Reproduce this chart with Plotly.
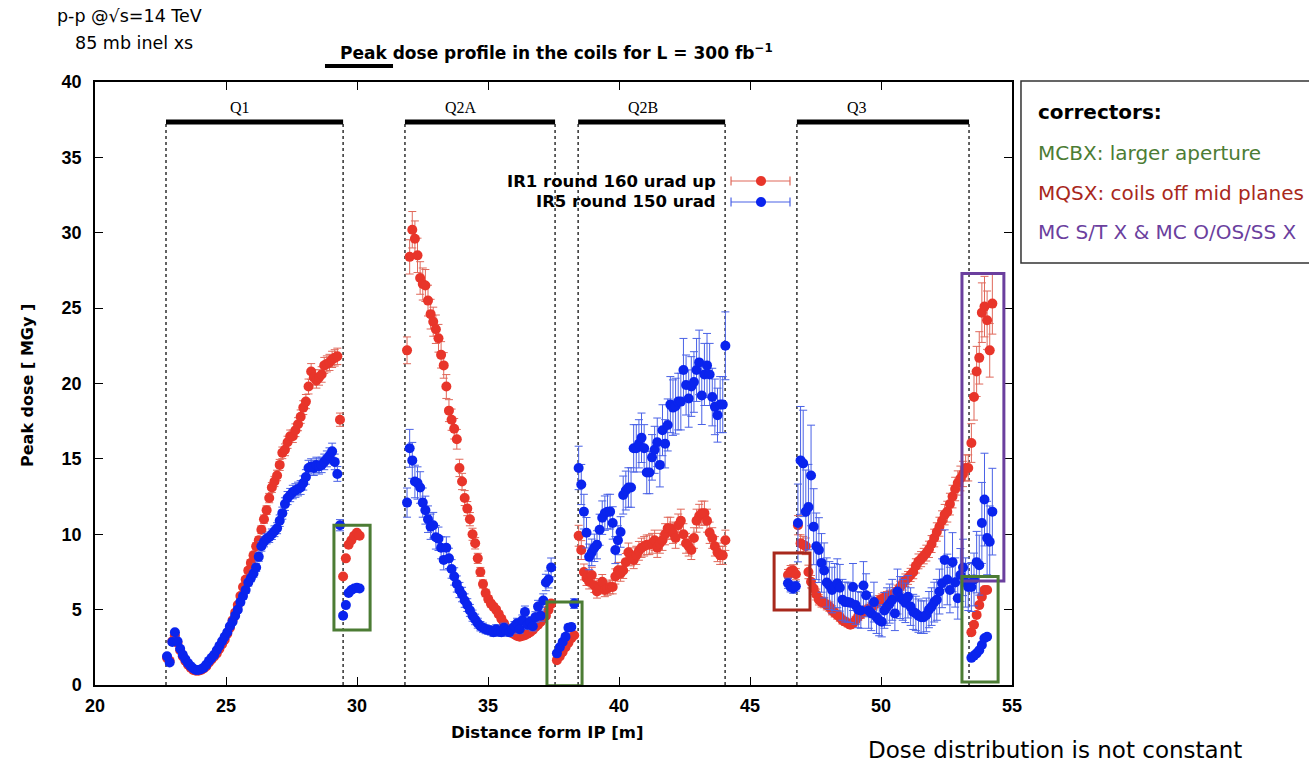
import plotly.graph_objects as go

# ---------------------------------------------------------------------------
# Peak dose in the coils (MGy) per scoring bin, for the two IR layouts
# Each block: first bin centre [m], bin width [m], IR1 values, IR5 values
# ---------------------------------------------------------------------------
q1_start, q1_step = 22.75, 0.1
q1_ir1 = [1.8, 1.6, 2.9, 3.3, 2.8, 2.3, 1.9, 1.6, 1.35, 1.15,
          1.0, 0.95, 0.95, 1.0, 1.1, 1.25, 1.5, 1.7, 1.9, 2.1,
          2.4, 2.7, 3.0, 3.4, 3.8, 4.3, 4.8, 5.3, 5.9, 6.5,
          7.0, 7.6, 8.1, 8.6, 9.2, 9.6, 10.3, 11.0, 11.6, 12.4,
          13.1, 13.5, 13.9, 14.6, 15.4, 15.6, 16.1, 16.5, 16.5, 16.9,
          17.3, 17.8, 18.4, 18.8, 19.8, 20.8, 20.4, 20.2, 20.4, 20.6,
          21.2, 21.3, 21.4, 21.6, 21.7, 21.8, 17.6]
q1_ir5 = [1.9, 1.5, 2.85, 3.5, 2.9, 2.4, 2.0, 1.7, 1.45, 1.25,
          1.1, 1.0, 1.0, 1.05, 1.15, 1.35, 1.6, 1.8, 2.0, 2.3,
          2.6, 2.9, 3.2, 3.5, 3.9, 4.2, 4.6, 5.0, 5.5, 5.9,
          6.3, 6.8, 7.1, 7.4, 7.8, 8.5, 9.2, 9.5, 9.7, 9.8,
          10.0, 10.2, 10.4, 10.9, 11.4, 12.0, 12.4, 12.6, 12.8, 12.9,
          13.0, 13.1, 13.4, 13.8, 14.4, 14.5, 14.4, 14.6, 14.5, 14.6,
          14.8, 15.0, 15.2, 15.5, 14.8, 14.0, 10.6]

mcbx1_start, mcbx1_step = 29.47, 0.105
mcbx1_ir1 = [7.2, 8.4, 9.3, 9.6, 9.9, 10.1, 9.9]
mcbx1_ir5 = [4.6, 5.3, 6.1, 6.3, 6.4, 6.45, 6.4]

q2a_start, q2a_step = 31.91, 0.1
q2a_ir1 = [22.2, 28.4, 30.2, 29.6, 28.5, 27.0, 26.6, 26.5, 25.5, 24.6,
           24.1, 23.6, 23.0, 21.9, 21.2, 19.8, 18.2, 17.6, 17.0, 16.3,
           14.4, 13.5, 12.4, 11.7, 11.0, 10.0, 9.4, 8.4, 7.5, 6.7,
           6.1, 5.7, 5.4, 5.2, 5.0, 4.7, 4.4, 4.1, 3.8, 3.6,
           3.45, 3.35, 3.25, 3.2, 3.25, 3.3, 3.4, 3.5, 3.65, 3.85,
           4.0, 4.2, 4.4, 4.6, 5.0, 5.4]
q2a_ir5 = [12.1, 15.7, 14.9, 13.5, 13.4, 13.1, 12.1, 11.6, 11.0, 10.5,
           10.6, 9.8, 9.7, 9.1, 8.3, 9.1, 8.4, 7.7, 7.2, 6.7,
           6.3, 6.0, 5.6, 5.3, 4.95, 4.6, 4.35, 4.1, 3.9, 3.8,
           3.7, 3.65, 3.6, 3.5, 3.7, 3.55, 3.5, 3.8, 3.6, 3.5,
           3.7, 3.9, 4.1, 3.7, 4.3, 4.85, 4.0, 4.2, 3.9, 4.5,
           5.2, 4.6, 5.6, 6.8, 7.0, 7.8]

mcbx2_start, mcbx2_step = 37.63, 0.11
mcbx2_ir1 = [1.65, 1.9, 2.2, 2.5, 2.8, 3.1, 3.3]
mcbx2_ir5 = [2.1, 2.5, 2.85, 3.2, 3.8, 3.85, 5.4]

q2b_start, q2b_step = 38.46, 0.1
q2b_ir1 = [9.9, 8.95, 7.5, 7.1, 6.85, 7.3, 6.6, 6.2, 6.5, 6.85,
           6.3, 6.4, 6.5, 6.5, 7.2, 7.6, 7.4, 7.6, 8.15, 8.8,
           8.5, 8.3, 8.6, 8.9, 9.1, 9.2, 9.3, 9.3, 9.4, 9.6,
           9.1, 9.4, 9.6, 10.0, 10.4, 10.4, 10.1, 9.75, 10.6, 10.9,
           10.0, 9.4, 9.2, 8.95, 9.75, 10.9, 11.2, 11.4, 11.4, 10.9,
           10.1, 9.75, 9.2, 8.8, 8.6, 8.6, 9.6]
q2b_ir5 = [14.4, 13.3, 11.5, 10.1, 8.5, 8.8, 9.1, 9.3, 10.3, 11.1,
           11.4, 11.5, 11.5, 10.75, 8.95, 9.6, 10.15, 12.6, 12.9, 13.1,
           13.1, 15.7, 15.7, 16.0, 16.4, 15.7, 14.1, 14.1, 15.1, 15.6,
           16.1, 14.6, 16.9, 16.0, 17.25, 18.6, 18.4, 18.5, 18.8, 18.8,
           20.9, 19.9, 19.0, 19.8, 20.1, 20.9, 21.4, 19.2, 20.6, 21.2,
           20.6, 19.1, 18.45, 17.9, 18.6, 18.6, 22.5]

mqsx_start, mqsx_step = 46.45, 0.1
mqsx_ir1 = [7.3, 7.55, 7.6, 7.35]
mqsx_ir5 = [6.75, 6.5, 6.4, 6.55]

q3_start, q3_step = 46.83, 0.1
q3_ir1 = [10.6, 9.4, 9.3, 9.2, 7.5, 6.85, 6.4, 6.0, 5.65, 5.5,
          5.45, 5.3, 5.2, 4.95, 4.8, 4.65, 4.5, 4.3, 4.2, 4.1,
          4.0, 4.1, 4.3, 4.55, 4.7, 4.85, 4.95, 5.05, 5.15, 5.3,
          5.45, 5.6, 5.7, 5.8, 5.85, 5.9, 5.95, 6.1, 6.25, 6.5,
          6.7, 6.95, 7.1, 7.3, 7.5, 7.9, 8.2, 8.35, 8.55, 8.75,
          9.0, 9.35, 9.75, 10.15, 10.5, 10.9, 11.3, 11.5, 12.0, 12.5,
          13.0, 13.4, 13.7, 14.0, 14.4, 14.4]
q3_ir5 = [10.75, 14.9, 14.7, 11.5, 11.8, 13.9, 10.5, 9.2, 8.95, 8.1,
          7.6, 6.8, 6.6, 6.3, 6.5, 6.75, 6.45, 5.65, 5.5, 5.5,
          5.45, 6.5, 5.3, 5.0, 4.95, 6.6, 5.95, 4.95, 4.75, 5.5,
          4.5, 4.3, 4.2, 4.95, 5.2, 5.4, 5.65, 4.75, 6.2, 5.8,
          5.65, 5.45, 5.85, 5.2, 4.85, 4.75, 4.6, 4.5, 4.5, 4.65,
          5.0, 5.2, 5.5, 5.65, 6.2, 6.75, 8.3, 7.0, 6.3, 8.15,
          6.8, 5.75, 7.3, 7.8, 6.8, 6.5]

# multipole corrector package after Q3: outer (high) and inner (low) coils
mcx_hi_start, mcx_hi_step = 53.45, 0.1
mcx_hi_ir1 = [16.05, 19.1, 20.8, 21.7, 24.7, 25.1, 24.2, 22.2, 25.3]
mcx_hi_ir5 = [6.5, 7.0, 8.15, 7.95, 10.75, 12.3, 9.75, 9.5, 11.5]

mcbx3_start, mcbx3_step = 53.45, 0.1
mcbx3_ir1 = [3.5, 4.0, 4.65, 5.3, 5.85, 6.3, 6.3]
mcbx3_ir5 = [1.8, 1.95, 2.1, 2.3, 2.65, 3.1, 3.2]

# statistical uncertainty (percent) per block: (IR1, IR5)
blocks = [
    (q1_start, q1_step, q1_ir1, q1_ir5, (2.5, 3.5)),
    (mcbx1_start, mcbx1_step, mcbx1_ir1, mcbx1_ir5, (1.0, 1.0)),
    (q2a_start, q2a_step, q2a_ir1, q2a_ir5, (4.0, 8.0)),
    (mcbx2_start, mcbx2_step, mcbx2_ir1, mcbx2_ir5, (2.0, 6.0)),
    (q2b_start, q2b_step, q2b_ir1, q2b_ir5, (7.0, 10.0)),
    (mqsx_start, mqsx_step, mqsx_ir1, mqsx_ir5, (5.0, 5.0)),
    (q3_start, q3_step, q3_ir1, q3_ir5, (6.0, 24.0)),
    (mcx_hi_start, mcx_hi_step, mcx_hi_ir1, mcx_hi_ir5, (8.0, 25.0)),
    (mcbx3_start, mcbx3_step, mcbx3_ir1, mcbx3_ir5, (2.0, 2.0)),
]

# magnet layout along the beam line [m]
magnet_names = ["Q1", "Q2A", "Q2B", "Q3"]
magnet_starts = [22.71, 31.83, 38.44, 46.79]
magnet_ends = [29.47, 37.56, 44.05, 53.36]
magnet_label_x = [25.08, 33.28, 40.27, 48.63]
magnet_bar_y = 37.35
magnet_label_y = 38.3

# highlighted corrector regions: (x0, x1, y0, y1, colour)
GREEN, DARKRED, PURPLE = "#4c7c34", "#a8281c", "#6b3f9e"
highlight_boxes = [
    (29.12, 30.50, 3.65, 10.6, GREEN),
    (37.25, 38.59, -0.05, 5.5, GREEN),
    (45.92, 47.29, 4.98, 8.75, DARKRED),
    (53.09, 54.69, 6.9, 27.3, PURPLE),
    (53.09, 54.47, 0.2, 7.2, GREEN),
]

RED, RED_ERR = "#e8352a", "#e0685a"
BLUE, BLUE_ERR = "#0a24ee", "#4a62e6"


def bin_centres(start, step, n):
    return [round(start + step * i, 3) for i in range(n)]


fig = go.Figure()

# IR1 first, IR5 drawn on top
for series, colour, ecol in ((0, RED, RED_ERR), (1, BLUE, BLUE_ERR)):
    for start, step, ir1, ir5, errs in blocks:
        vals = ir1 if series == 0 else ir5
        fig.add_trace(go.Scatter(
            x=bin_centres(start, step, len(vals)), y=vals, mode="markers",
            marker=dict(color=colour, size=10, line=dict(width=0)),
            error_y=dict(type="percent", value=errs[series], color=ecol,
                         thickness=1, width=4),
            showlegend=False, hoverinfo="x+y",
        ))

shapes = []
for name, x0, x1 in zip(magnet_names, magnet_starts, magnet_ends):
    for xv in (x0, x1):
        shapes.append(dict(type="line", xref="x", yref="y", x0=xv, x1=xv,
                           y0=0, y1=magnet_bar_y, layer="below",
                           line=dict(color="#222", width=1.4, dash="dot")))
    shapes.append(dict(type="line", xref="x", yref="y", x0=x0, x1=x1,
                       y0=magnet_bar_y, y1=magnet_bar_y,
                       line=dict(color="black", width=5)))

for x0, x1, y0, y1, col in highlight_boxes:
    shapes.append(dict(type="rect", xref="x", yref="y", x0=x0, x1=x1,
                       y0=y0, y1=y1, line=dict(color=col, width=3),
                       fillcolor="rgba(0,0,0,0)"))

# key samples (marker with horizontal error bar)
for yk, colour, ecol in ((0.8358, RED, RED_ERR), (0.801, BLUE, BLUE_ERR)):
    shapes.append(dict(type="line", xref="paper", yref="paper",
                       x0=0.6936, x1=0.7579, y0=yk, y1=yk,
                       line=dict(color=ecol, width=1.2)))
    for xc in (0.6936, 0.7579):
        shapes.append(dict(type="line", xref="paper", yref="paper",
                           x0=xc, x1=xc, y0=yk - 0.0075, y1=yk + 0.0075,
                           line=dict(color=ecol, width=1.2)))
    shapes.append(dict(type="circle", xref="paper", yref="paper",
                       x0=0.7263 - 0.0055, x1=0.7263 + 0.0055,
                       y0=yk - 0.0083, y1=yk + 0.0083,
                       fillcolor=colour, line=dict(color=colour, width=0)))

# short rule under the title
shapes.append(dict(type="line", xref="paper", yref="paper",
                   x0=0.2508, x1=0.325, y0=1.0265, y1=1.0265,
                   line=dict(color="black", width=4)))

# corrector description panel
shapes.append(dict(type="rect", xref="paper", yref="paper",
                   x0=1.0098, x1=1.34, y0=0.6998, y1=1.0017,
                   line=dict(color="#333", width=1.5),
                   fillcolor="white"))

GNU = "DejaVu Sans"
annotations = []
for name, lx in zip(magnet_names, magnet_label_x):
    annotations.append(dict(x=lx, y=magnet_label_y, xref="x", yref="y",
                            text=name, showarrow=False, xanchor="left",
                            yanchor="middle",
                            font=dict(family="Liberation Serif", size=16,
                                      color="black")))

annotations += [
    dict(x=0.265, y=1.0498, xref="paper", yref="paper", showarrow=False,
         xanchor="left", yanchor="middle",
         text="<b>Peak dose profile in the coils for L = 300 fb<sup>−1</sup></b>",
         font=dict(family=GNU, size=17, color="black")),
    dict(x=-0.0436, y=1.1095, xref="paper", yref="paper", showarrow=False,
         xanchor="left", yanchor="middle", text="p-p @√s=14 TeV",
         font=dict(family=GNU, size=17.5, color="black")),
    dict(x=-0.024, y=1.0647, xref="paper", yref="paper", showarrow=False,
         xanchor="left", yanchor="middle", text="85 mb inel xs",
         font=dict(family=GNU, size=17.5, color="black")),
    dict(x=0.6794, y=0.8358, xref="paper", yref="paper", showarrow=False,
         xanchor="right", yanchor="middle", text="<b>IR1 round 160 urad up</b>",
         font=dict(family=GNU, size=16.5, color="black")),
    dict(x=0.6794, y=0.801, xref="paper", yref="paper", showarrow=False,
         xanchor="right", yanchor="middle", text="<b>IR5 round 150 urad</b>",
         font=dict(family=GNU, size=16.5, color="black")),
    dict(x=-0.0742, y=0.4975, xref="paper", yref="paper", showarrow=False,
         textangle=-90, xanchor="center", yanchor="middle",
         text="<b>Peak dose [ MGy ]</b>",
         font=dict(family=GNU, size=16, color="black")),
    dict(x=0.4935, y=-0.0796, xref="paper", yref="paper", showarrow=False,
         xanchor="center", yanchor="middle", text="<b>Distance form IP [m]</b>",
         font=dict(family=GNU, size=16.5, color="black")),
    dict(x=1.0262, y=0.9502, xref="paper", yref="paper", showarrow=False,
         xanchor="left", yanchor="middle", text="<b>correctors:</b>",
         font=dict(family=GNU, size=20, color="black")),
    dict(x=1.0262, y=0.8823, xref="paper", yref="paper", showarrow=False,
         xanchor="left", yanchor="middle", text="MCBX: larger aperture",
         font=dict(family=GNU, size=20, color=GREEN)),
    dict(x=1.0262, y=0.8159, xref="paper", yref="paper", showarrow=False,
         xanchor="left", yanchor="middle", text="MQSX: coils off mid planes",
         font=dict(family=GNU, size=20, color=DARKRED)),
    dict(x=1.0262, y=0.7512, xref="paper", yref="paper", showarrow=False,
         xanchor="left", yanchor="middle", text="MC S/T X &amp; MC O/OS/SS X",
         font=dict(family=GNU, size=20, color=PURPLE)),
    dict(x=0.8408, y=-0.1078, xref="paper", yref="paper", showarrow=False,
         xanchor="left", yanchor="middle", text="Dose distribution is not constant",
         font=dict(family=GNU, size=23, color="black")),
]

axis_common = dict(showgrid=False, zeroline=False, showline=True,
                   linecolor="black", linewidth=1.5, mirror="ticks",
                   ticks="inside", ticklen=8, tickwidth=1.2, tickcolor="black",
                   tickfont=dict(family="Liberation Sans", size=18,
                                 color="black", weight="bold"))

fig.update_layout(
    width=1309, height=763,
    margin=dict(l=95, r=297, t=82, b=78),
    paper_bgcolor="white", plot_bgcolor="white",
    xaxis=dict(range=[20, 55], dtick=5, tick0=20, ticklabelstandoff=4,
               **axis_common),
    yaxis=dict(range=[0, 40], dtick=5, tick0=0, ticklabelstandoff=8,
               **axis_common),
    shapes=shapes, annotations=annotations, showlegend=False,
)

fig.write_html("out.html")
